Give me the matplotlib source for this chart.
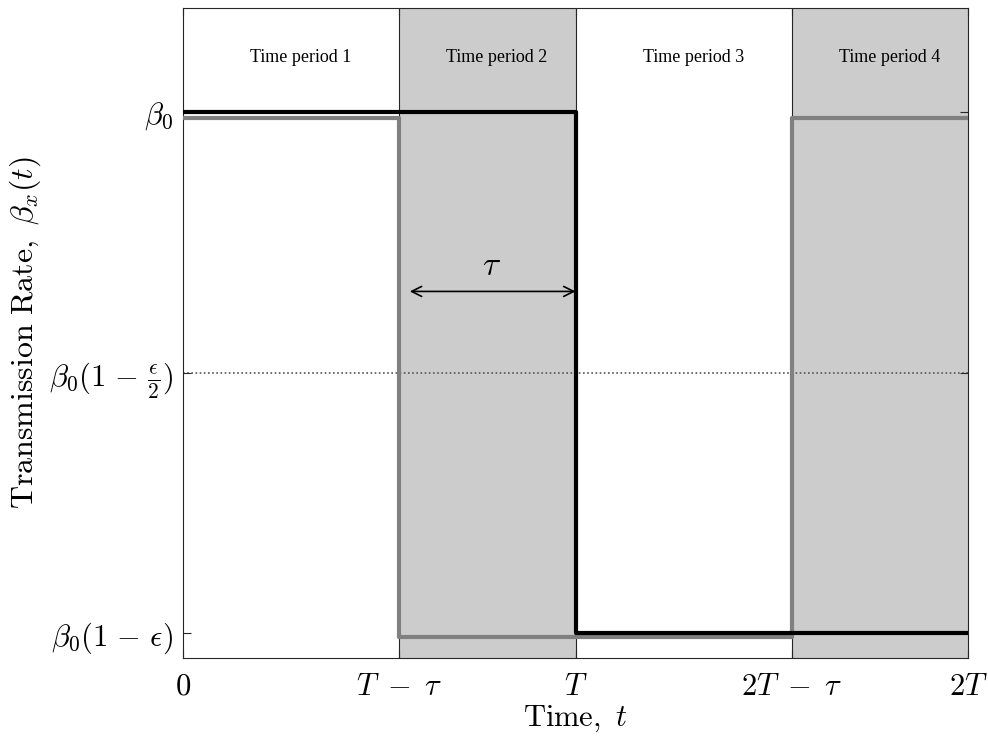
import numpy as np
import matplotlib
matplotlib.use('Agg')
import matplotlib.pyplot as plt

plt.rcParams['mathtext.fontset'] = 'cm'

# time in units of T, rate with beta0 = 1 and eps = 1
T = 1.0
tau = 0.45
x_ticks = [0, T - tau, T, 2 * T - tau, 2 * T]
x_labels = [r'$0$', r'$T\ \,{-}\ \,\tau$', r'$T$', r'$2T\ \,{-}\ \,\tau$', r'$2T$']
y_ticks = [0.0, 0.5, 1.0]
y_labels = [r'$\beta_0(1\ {-}\ \epsilon)$', r'$\beta_0(1\ {-}\ \frac{\epsilon}{2})$', r'$\beta_0$']

black_t = [0, T, T, 2 * T]
black_y = [1.0, 1.0, 0.0, 0.0]
gray_t = [0, T - tau, T - tau, 2 * T - tau, 2 * T - tau, 2 * T]
gray_y = [0.99, 0.99, -0.008, -0.008, 0.99, 0.99]

shaded = [(T - tau, T), (2 * T - tau, 2 * T)]
boundaries = [T - tau, T, 2 * T - tau]
period_names = ['Time period 1', 'Time period 2', 'Time period 3', 'Time period 4']
period_x = [0.3, 0.8, 1.3, 1.8]

fig = plt.figure(figsize=(9.88, 7.42), dpi=100)
ax = fig.add_axes([0.185, 0.1132, 0.795, 0.8758])

for a, b in shaded:
    ax.axvspan(a, b, color='#cccccc', lw=0, zorder=0)
for b in boundaries:
    ax.axvline(b, color='#262626', lw=0.8, zorder=1)

ax.axhline(0.5, color='#555555', lw=1.2, ls=(0, (1, 1.5)), zorder=1)

ax.plot(gray_t, gray_y, color='#808080', lw=3, zorder=3)
ax.plot(black_t, black_y, color='black', lw=3, zorder=4)

ax.annotate('', xy=(0.578, 0.656), xytext=(1.0, 0.656),
            arrowprops=dict(arrowstyle='<->', color='black', lw=1.2,
                            mutation_scale=18, shrinkA=0, shrinkB=0))
ax.text(0.785, 0.705, r'$\tau$', fontsize=24, ha='center', va='center')

for name, px in zip(period_names, period_x):
    ax.text(px, 1.105, name, fontsize=13, family='Liberation Serif',
            ha='center', va='center')

ax.set_xlim(0, 2 * T)
ax.set_ylim(-0.048, 1.2)
ax.set_xticks(x_ticks)
ax.set_xticklabels(x_labels, fontsize=22)
ax.set_yticks(y_ticks)
ax.set_yticklabels(y_labels, fontsize=22)
ax.tick_params(direction='in', length=6, width=0.8, color='#262626',
               top=True, right=True)
ax.tick_params(axis='x', pad=10)
ax.tick_params(axis='y', pad=7)
for s in ax.spines.values():
    s.set_color('#262626')
    s.set_linewidth(0.8)

ax.set_xlabel(r'$\mathrm{Time},\ t$', fontsize=22, labelpad=2)
ax.set_ylabel(r'$\mathrm{Transmission\ Rate},\ \beta_x(t)$', fontsize=23, labelpad=4)

fig.savefig('out.png', dpi=100)
